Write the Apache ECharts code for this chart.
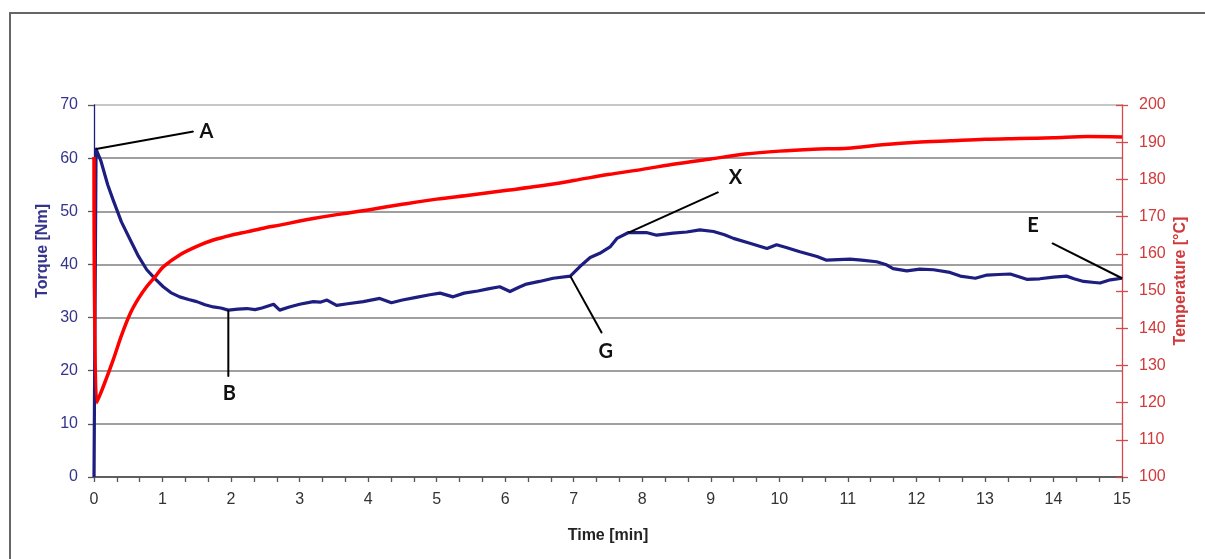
<!DOCTYPE html>
<html>
<head>
<meta charset="utf-8">
<script src="https://cdn.jsdelivr.net/npm/echarts@6/dist/echarts.min.js"></script>
<style>
  html, body { margin: 0; padding: 0; background: #ffffff; }
  #chart { width: 1205px; height: 559px; }
</style>
</head>
<body>
<div id="chart"></div>
<script>
// Torque curve: time [min] and torque [Nm]
const torqueTime = [0, 0.03, 0.1, 0.2, 0.28, 0.4, 0.53, 0.65, 0.77, 0.9, 1.01, 1.12, 1.25, 1.38, 1.5, 1.62, 1.74, 1.85, 1.96,
  2.1, 2.23, 2.35, 2.45, 2.62, 2.71, 2.85, 3.0, 3.2, 3.3, 3.4, 3.54, 3.7, 3.93, 4.17, 4.34, 4.5, 4.7, 4.9, 5.05, 5.24,
  5.4, 5.6, 5.75, 5.92, 6.07, 6.2, 6.31, 6.5, 6.7, 6.95, 7.09, 7.24, 7.38, 7.53, 7.63, 7.8, 8.06, 8.21, 8.45, 8.65,
  8.84, 9.04, 9.2, 9.33, 9.57, 9.82, 9.96, 10.1, 10.3, 10.55, 10.69, 11.03, 11.2, 11.42, 11.55, 11.66, 11.86, 12.05,
  12.25, 12.49, 12.64, 12.86, 13.03, 13.2, 13.37, 13.61, 13.8, 14.0, 14.19, 14.3, 14.44, 14.6, 14.68, 14.83, 15.0];
const torqueNm = [0, 61.7, 59.5, 55.0, 52.1, 48.0, 44.6, 41.5, 39.0, 37.2, 35.8, 34.7, 33.9, 33.4, 33.0, 32.4, 32.0, 31.8, 31.4,
  31.6, 31.7, 31.5, 31.8, 32.5, 31.4, 32.0, 32.5, 33.0, 32.9, 33.3, 32.3, 32.6, 33.0, 33.6, 32.8, 33.3, 33.8, 34.3, 34.6, 33.9,
  34.6, 35.0, 35.4, 35.8, 34.9, 35.7, 36.3, 36.8, 37.4, 37.8, 39.6, 41.3, 42.1, 43.3, 44.9, 46.0, 46.0, 45.5, 45.9, 46.1,
  46.5, 46.2, 45.6, 44.9, 44.0, 43.0, 43.7, 43.2, 42.4, 41.5, 40.8, 41.0, 40.8, 40.5, 40.0, 39.2, 38.8, 39.1,
  39.0, 38.5, 37.8, 37.4, 38.0, 38.1, 38.2, 37.2, 37.3, 37.6, 37.8, 37.3, 36.8, 36.6, 36.5, 37.1, 37.4];

// Temperature curve: time [min] and temperature [°C]
const tempTime = [0, 0.04, 0.15, 0.28, 0.4, 0.53, 0.65, 0.77, 0.9, 1.01, 1.25, 1.5, 1.74, 2.0, 2.23, 2.5, 2.71, 3.0, 3.2,
  3.5, 3.69, 4.0, 4.5, 5.0, 5.5, 6.0, 6.5, 7.0, 7.5, 8.0, 8.5, 9.0, 9.5, 10.0, 10.5, 11.0, 11.5, 12.0, 12.5, 13.0,
  13.5, 14.0, 14.5, 15.0];
const tempC = [186, 120, 125, 131.5, 138, 144, 148, 151.2, 154, 156.5, 159.7, 162, 163.7, 165, 165.9, 167, 167.7, 168.8, 169.5,
  170.4, 170.9, 171.8, 173.3, 174.7, 175.8, 177, 178.2, 179.7, 181.3, 182.7, 184.2, 185.5, 186.8, 187.6, 188.1, 188.4, 189.3, 190.0, 190.4, 190.8,
  191.0, 191.2, 191.5, 191.4];

// Annotated points on the torque curve: [time, torque] for the leader line start and end
const markNames = ['A', 'B', 'G', 'X', 'E'];
const markFrom = [[0.03, 61.7], [1.96, 31.4], [6.95, 37.8], [7.8, 46.0], [13.98, 44.0]];
const markTo = [[1.45, 65.0], [1.96, 18.9], [7.41, 27.1], [9.11, 53.6], [15.0, 37.4]];

// Which end of each leader carries its letter, and the letter's offset in pixels
const markLabelEnd = ['to', 'to', 'to', 'to', 'from'];
const markLabelOffset = [[13, 0], [1, 17], [4, 19], [17, -15], [-19, -18]];

const zip = (xs, ys) => xs.map((x, i) => [x, ys[i]]);

const NAVY = '#1e1e80';
const NAVY_TEXT = '#34348c';
const RED = '#ff0000';
const RED_TEXT = '#d03a3a';
const FONT = '"Liberation Sans", Arial, sans-serif';

const annotationSeries = markNames.map((name, i) => {
  const labelCfg = {
    show: true,
    position: 'inside',
    offset: markLabelOffset[i],
    formatter: name,
    fontFamily: 'Lato, "Open Sans", sans-serif',
    fontWeight: 'bold',
    fontSize: 20,
    color: '#111111'
  };
  const p0 = { value: markFrom[i] };
  const p1 = { value: markTo[i] };
  if (markLabelEnd[i] === 'to') p1.label = labelCfg; else p0.label = labelCfg;
  return {
    type: 'line',
    name: 'mark-' + name,
    xAxisIndex: 0,
    yAxisIndex: 0,
    data: [p0, p1],
    symbol: 'circle',
    symbolSize: 1,
    showSymbol: true,
    itemStyle: { color: '#000000' },
    lineStyle: { color: '#000000', width: 2 },
    label: { show: false },
    z: 5,
    silent: true
  };
});

const chart = echarts.init(document.getElementById('chart'), null, { renderer: 'canvas' });

chart.setOption({
  animation: false,
  backgroundColor: '#ffffff',
  graphic: [{
    type: 'rect',
    shape: { x: 10, y: 13, width: 1300, height: 700 },
    style: { fill: 'none', stroke: '#666666', lineWidth: 2 },
    silent: true,
    z: 0
  }, {
    // vertical axis titles
    type: 'text',
    x: 43,
    y: 251,
    rotation: Math.PI / 2,
    style: {
      text: 'Torque [Nm]',
      fill: NAVY_TEXT,
      font: 'bold 16px "Liberation Sans", Arial, sans-serif',
      textAlign: 'center',
      textVerticalAlign: 'middle'
    },
    silent: true
  }, {
    type: 'text',
    x: 1181,
    y: 281,
    rotation: Math.PI / 2,
    style: {
      text: 'Temperature [°C]',
      fill: RED_TEXT,
      font: 'bold 16px "Liberation Sans", Arial, sans-serif',
      textAlign: 'center',
      textVerticalAlign: 'middle'
    },
    silent: true
  }],
  grid: { left: 94, right: 83, top: 105, bottom: 82, containLabel: false },
  xAxis: {
    type: 'value',
    min: 0,
    max: 15,
    interval: 1,
    name: 'Time [min]',
    nameLocation: 'middle',
    nameGap: 51,
    nameTextStyle: { fontFamily: FONT, fontWeight: 'bold', fontSize: 16, color: '#222222' },
    axisLine: { show: true, onZero: false, lineStyle: { color: '#555555', width: 1.5 } },
    axisTick: { show: true, length: 5, lineStyle: { color: '#555555', width: 1.3 } },
    minorTick: { show: true, splitNumber: 3, length: 5, lineStyle: { color: '#555555', width: 1.3 } },
    axisLabel: { fontFamily: FONT, fontSize: 16, color: '#333333', margin: 15 },
    splitLine: { show: false }
  },
  yAxis: [{
    type: 'value',
    position: 'left',
    min: 0,
    max: 70,
    interval: 10,
    axisLine: { show: true, lineStyle: { color: NAVY, width: 1.3 } },
    axisTick: { show: true, length: 6, lineStyle: { color: '#555555', width: 1.3 } },
    axisLabel: { fontFamily: FONT, fontSize: 16, color: NAVY_TEXT, margin: 16 },
    splitLine: {
      show: true,
      lineStyle: { color: ['#555555', '#7f7f7f', '#7f7f7f', '#7f7f7f', '#7f7f7f', '#7f7f7f', '#7f7f7f', '#b5b5b5'], width: 1.7 }
    }
  }, {
    type: 'value',
    position: 'right',
    min: 100,
    max: 200,
    interval: 10,
    axisLine: { show: true, lineStyle: { color: '#d24a4a', width: 1.3 } },
    axisTick: { show: true, length: 6, lineStyle: { color: '#d24a4a', width: 1.3 } },
    axisLabel: { fontFamily: FONT, fontSize: 16, color: RED_TEXT, margin: 17 },
    splitLine: { show: false }
  }, {
    // inner half of the crossing ticks on the temperature axis
    type: 'value',
    position: 'right',
    min: 100,
    max: 200,
    interval: 10,
    axisLine: { show: false },
    axisTick: { show: true, inside: true, length: 6, lineStyle: { color: '#d24a4a', width: 1.3 } },
    axisLabel: { show: false },
    splitLine: { show: false }
  }],
  series: [{
    type: 'line',
    name: 'Torque',
    xAxisIndex: 0,
    yAxisIndex: 0,
    data: zip(torqueTime, torqueNm),
    showSymbol: false,
    symbol: 'none',
    lineStyle: { color: NAVY, width: 3.2, join: 'round' },
    z: 3
  }, {
    type: 'line',
    name: 'Temperature',
    xAxisIndex: 0,
    yAxisIndex: 1,
    data: zip(tempTime, tempC),
    showSymbol: false,
    symbol: 'none',
    smooth: 0.3,
    lineStyle: { color: RED, width: 3.5, join: 'round' },
    z: 4
  }].concat(annotationSeries)
});
</script>
</body>
</html>
